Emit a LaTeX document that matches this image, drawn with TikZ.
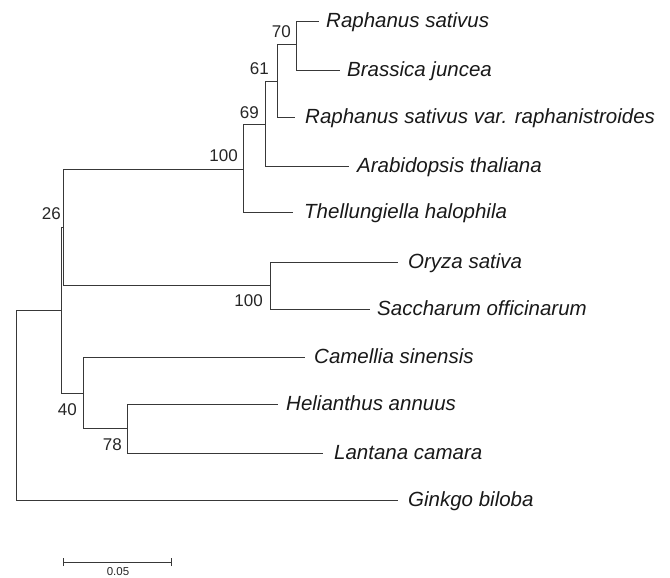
\documentclass[tikz,border=0pt]{standalone}
\usepackage{fontspec}
\setmainfont{Liberation Sans}
\begin{document}
\begin{tikzpicture}[x=1pt,y=-1pt,
  branch/.style={draw=black!78, line width=1pt},
  taxon/.style={anchor=base west, inner sep=0pt, text=black!90, font=\fontsize{20.5}{24}\selectfont\itshape},
  boot/.style={anchor=base east, inner sep=0pt, text=black!85, font=\fontsize{17}{20}\selectfont},
  scalelab/.style={anchor=base, inner sep=0pt, text=black!85, font=\fontsize{11.5}{13}\selectfont}]
\useasboundingbox (0,0) rectangle (670,578);
% internal nodes
\coordinate (root) at (16,310);
\coordinate (n1) at (61,310);
\coordinate (n26) at (63,227);
\coordinate (nb100) at (243,169);
\coordinate (n69) at (265,124);
\coordinate (n61) at (277,82);
\coordinate (n70) at (296,45);
\coordinate (nm100) at (270,285);
\coordinate (n40) at (83,393);
\coordinate (n78) at (127,428);
% leaf ends
\coordinate (rs) at (319,22);
\coordinate (bj) at (340,71);
\coordinate (rv) at (295,118);
\coordinate (at) at (349,166);
\coordinate (th) at (293,212);
\coordinate (os) at (398,262);
\coordinate (so) at (370,309);
\coordinate (cs) at (305,357);
\coordinate (ha) at (278,404);
\coordinate (lc) at (323,453);
\coordinate (gb) at (398,500);
% branches
\draw[branch] (root) |- (n1);
\draw[branch] (root) |- (gb);
\draw[branch] (n1) |- (n26);
\draw[branch] (n1) |- (n40);
\draw[branch] (n26) |- (nb100);
\draw[branch] (n26) |- (nm100);
\draw[branch] (nb100) |- (n69);
\draw[branch] (nb100) |- (th);
\draw[branch] (n69) |- (n61);
\draw[branch] (n69) |- (at);
\draw[branch] (n61) |- (n70);
\draw[branch] (n61) |- (rv);
\draw[branch] (n70) |- (rs);
\draw[branch] (n70) |- (bj);
\draw[branch] (nm100) |- (os);
\draw[branch] (nm100) |- (so);
\draw[branch] (n40) |- (cs);
\draw[branch] (n40) |- (n78);
\draw[branch] (n78) |- (ha);
\draw[branch] (n78) |- (lc);
% taxa
\node[taxon] (tRS) at (326,28) {Raphanus sativus};
\node[taxon] (tBJ) at (347,77) {Brassica juncea};
\node[taxon] (tRV) at (305,124) {Raphanus sativus var. raphanistroides};
\node[taxon] (tAT) at (357,172) {Arabidopsis thaliana};
\node[taxon] (tTH) at (304,218) {Thellungiella halophila};
\node[taxon] (tOS) at (408,268) {Oryza sativa};
\node[taxon] (tSO) at (377,315) {Saccharum officinarum};
\node[taxon] (tCS) at (314,363) {Camellia sinensis};
\node[taxon] (tHA) at (286,410) {Helianthus annuus};
\node[taxon] (tLC) at (334,459) {Lantana camara};
\node[taxon] (tGB) at (408,506) {Ginkgo biloba};
% bootstrap values
\node[boot] (b70) at (291,38) {70};
\node[boot] (b61) at (269,75) {61};
\node[boot] (b69) at (259,118) {69};
\node[boot] (b100a) at (238,161) {100};
\node[boot] (b26) at (61,219) {26};
\node[boot] (b100b) at (263,306) {100};
\node[boot] (b40) at (77,415) {40};
\node[boot] (b78) at (122,450) {78};
% scale bar
\coordinate (sbL) at (63,562);
\coordinate (sbR) at (171,562);
\draw[branch] (sbL) -- (sbR);
\draw[branch] ([yshift=-4pt]sbL) -- ([yshift=4pt]sbL);
\draw[branch] ([yshift=-4pt]sbR) -- ([yshift=4pt]sbR);
\node[scalelab] (sblab) at (118,575) {0.05};
\end{tikzpicture}
\end{document}
